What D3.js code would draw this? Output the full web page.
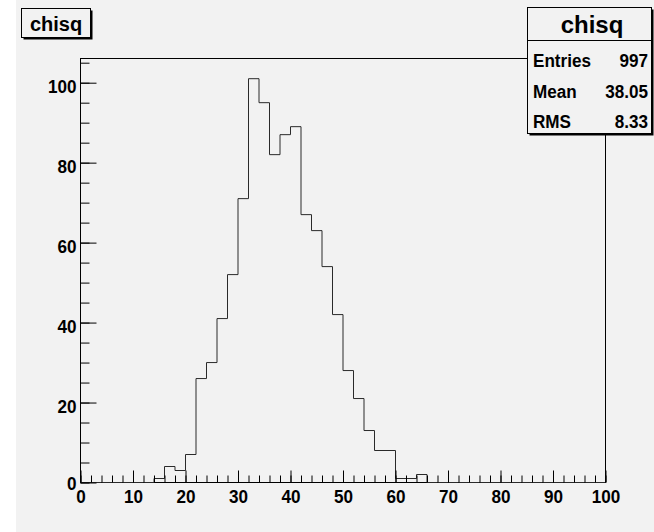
<!DOCTYPE html>
<html>
<head>
<meta charset="utf-8">
<script src="https://cdn.jsdelivr.net/npm/d3@7"></script>
<style>
  html, body { margin: 0; padding: 0; background: #ffffff; }
  svg { display: block; }
  text { font-family: "Liberation Sans", Arial, Helvetica, sans-serif; font-weight: bold; fill: #000; }
</style>
</head>
<body>
<svg id="chart" width="654" height="532"></svg>
<script>
// Histogram "chisq": 50 bins of width 2 over [0, 100]
const binLow = d3.range(0, 100, 2);
const counts = [
  0, 0, 0, 0, 0, 0, 0, 1, 4, 3,
  7, 26, 30, 41, 52, 71, 101, 95, 82, 87,
  89, 67, 63, 54, 42, 28, 21, 13, 8, 8,
  1, 1, 2, 0, 0, 0, 0, 0, 0, 0,
  0, 0, 0, 0, 0, 0, 0, 0, 0, 0
];
const binWidth = 2;

const histTitle = "chisq";
const xTickLabels = [0, 10, 20, 30, 40, 50, 60, 70, 80, 90, 100];
const yTickLabels = [0, 20, 40, 60, 80, 100];
const statNames = ["Entries", "Mean", "RMS"];
const statValues = ["997", "38.05", "8.33"];

const W = 654, H = 532;
const frame = { left: 80.5, right: 605.5, top: 58.5, bottom: 482.5 };
const yMax = d3.max(counts) * 1.05;

const svg = d3.select("#chart");

// canvas background
svg.append("rect").attr("x", 16).attr("y", 0).attr("width", W - 16).attr("height", H).attr("fill", "#f2f2f2");

const x = d3.scaleLinear().domain([0, 100]).range([frame.left, frame.right]);
const y = d3.scaleLinear().domain([0, yMax]).range([frame.bottom, frame.top]);

// frame
svg.append("rect")
  .attr("x", frame.left).attr("y", frame.top)
  .attr("width", frame.right - frame.left).attr("height", frame.bottom - frame.top)
  .attr("fill", "none").attr("stroke", "#000").attr("stroke-width", 1);

// histogram outline
const pts = [[x(0), y(0)]];
binLow.forEach((lo, i) => {
  pts.push([x(lo), y(counts[i])]);
  pts.push([x(lo + binWidth), y(counts[i])]);
});
pts.push([x(100), y(0)]);
svg.append("path")
  .attr("d", d3.line()(pts))
  .attr("fill", "none").attr("stroke", "#2a2a2a").attr("stroke-width", 1);

const sx = 0.9; // horizontal squeeze of the label font

// x axis: minor ticks every 2, major ticks every 10 (pointing inward)
const xMinor = d3.axisBottom(x).tickValues(d3.range(0, 101, 2)).tickSize(-7).tickFormat("");
const gxMinor = svg.append("g").attr("transform", `translate(0,${frame.bottom})`).call(xMinor);
const xMajor = d3.axisBottom(x).tickValues(xTickLabels).tickSize(-12).tickFormat(d3.format("d"));
const gx = svg.append("g").attr("transform", `translate(0,${frame.bottom})`).call(xMajor);

// y axis: minor ticks every 5, major ticks every 20
const yMinor = d3.axisLeft(y).tickValues(d3.range(0, 106, 5)).tickSize(-9).tickFormat("");
const gyMinor = svg.append("g").attr("transform", `translate(${frame.left},0)`).call(yMinor);
const yMajor = d3.axisLeft(y).tickValues(yTickLabels).tickSize(-16).tickFormat(d3.format("d"));
const gy = svg.append("g").attr("transform", `translate(${frame.left},0)`).call(yMajor);

[gxMinor, gx, gyMinor, gy].forEach(g => {
  g.select(".domain").remove();
  g.selectAll(".tick line").attr("stroke", "#000").attr("stroke-width", 1);
});

gx.selectAll(".tick text")
  .attr("y", null).attr("dy", null)
  .attr("font-size", 19)
  .attr("text-anchor", "middle")
  .attr("transform", `translate(0,20) scale(${sx},1)`)
  .style("font-family", "'Liberation Sans', Arial, sans-serif").style("font-weight", "bold");

gy.selectAll(".tick text")
  .attr("x", null).attr("dy", null)
  .attr("font-size", 19)
  .attr("text-anchor", "end")
  .attr("transform", `translate(-4,9.5) scale(${sx},1)`)
  .style("font-family", "'Liberation Sans', Arial, sans-serif").style("font-weight", "bold");
gy.selectAll(".tick text").filter(d => d === 0)
  .attr("transform", `translate(-4,7) scale(${sx},1)`);

// title box (with shadow)
const tb = { x: 21.5, y: 8.5, w: 69, h: 29 };
svg.append("rect").attr("x", tb.x + 2).attr("y", tb.y + 2).attr("width", tb.w).attr("height", tb.h).attr("fill", "#000");
svg.append("rect").attr("x", tb.x).attr("y", tb.y).attr("width", tb.w).attr("height", tb.h)
  .attr("fill", "#f2f2f2").attr("stroke", "#000").attr("stroke-width", 1);
svg.append("text").attr("x", tb.x + tb.w / 2).attr("y", 30.5)
  .attr("text-anchor", "middle").attr("font-size", 20).text(histTitle);

// statistics box (with shadow)
const sb = { x: 527.5, y: 7.5, w: 124, h: 126 };
svg.append("rect").attr("x", sb.x + 2).attr("y", sb.y + 2).attr("width", sb.w).attr("height", sb.h).attr("fill", "#000");
svg.append("rect").attr("x", sb.x).attr("y", sb.y).attr("width", sb.w).attr("height", sb.h)
  .attr("fill", "#f2f2f2").attr("stroke", "#000").attr("stroke-width", 1);
svg.append("line").attr("x1", sb.x).attr("x2", sb.x + sb.w).attr("y1", 40.5).attr("y2", 40.5)
  .attr("stroke", "#000").attr("stroke-width", 1);
svg.append("text").attr("x", 592).attr("y", 33)
  .attr("text-anchor", "middle").attr("font-size", 24).text(histTitle);

const rowBase = [67, 97.5, 128];
statNames.forEach((name, i) => {
  svg.append("text")
    .attr("transform", `translate(533,${rowBase[i]}) scale(${sx},1)`)
    .attr("font-size", 19).text(name);
  svg.append("text")
    .attr("transform", `translate(648,${rowBase[i]}) scale(${sx},1)`)
    .attr("text-anchor", "end").attr("font-size", 19).text(statValues[i]);
});
</script>
</body>
</html>
